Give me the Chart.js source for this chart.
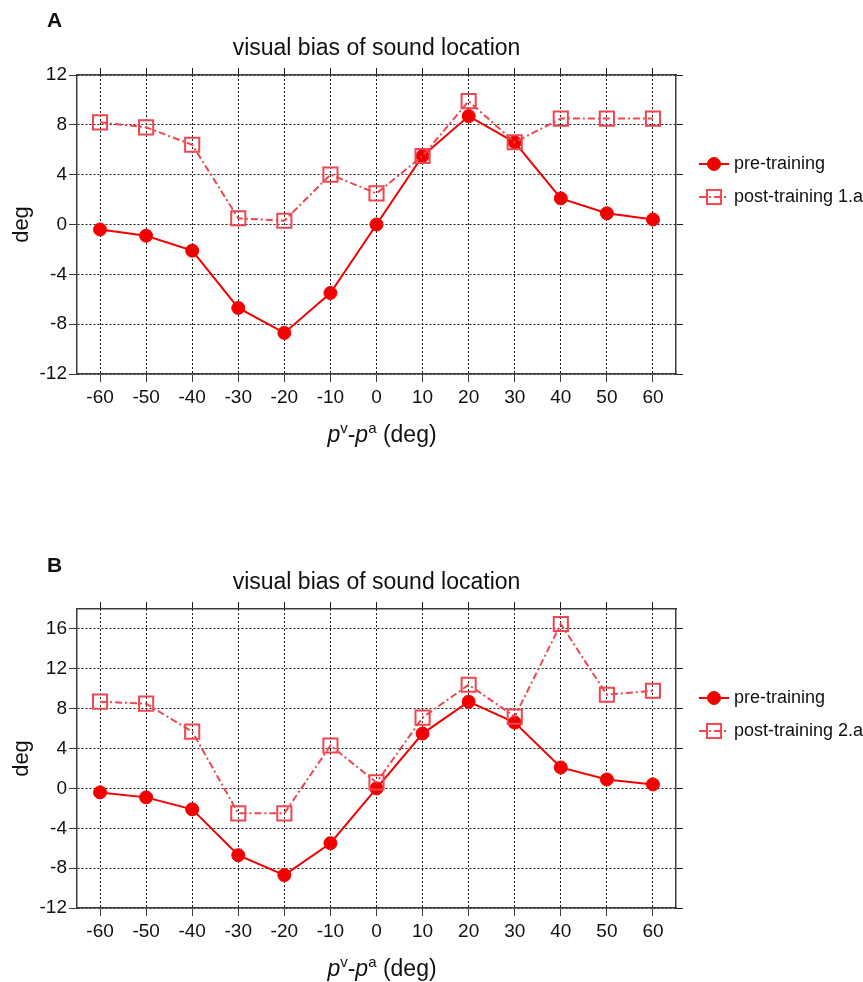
<!DOCTYPE html>
<html><head><meta charset="utf-8">
<script src="https://cdn.jsdelivr.net/npm/chart.js@4/dist/chart.umd.min.js"></script>
<style>
html,body{margin:0;padding:0;background:#fff;}
#wrapA{position:absolute;left:0;top:0;width:863px;height:448px;}
#wrapB{position:absolute;left:0;top:534px;width:863px;height:448px;}
</style></head><body>
<div id="wrapA"><canvas id="chartA"></canvas></div>
<div id="wrapB"><canvas id="chartB"></canvas></div>
<script>
// ---- data ----
const xValues = [-60,-50,-40,-30,-20,-10,0,10,20,30,40,50,60];
const xTicks = [-60,-50,-40,-30,-20,-10,0,10,20,30,40,50,60];
const xRange = [-65, 65];
const preTraining = [-0.4,-0.9,-2.1,-6.7,-8.7,-5.5,0,5.5,8.7,6.6,2.1,0.9,0.4];
const postTraining1a = [8.2,7.8,6.4,0.5,0.3,4.0,2.5,5.5,9.9,6.6,8.5,8.5,8.5];
const postTraining2a = [8.7,8.5,5.7,-2.5,-2.5,4.3,0.6,7.1,10.4,7.2,16.5,9.4,9.8];
const yTicksA = [-12,-8,-4,0,4,8,12];
const yTicksB = [-12,-8,-4,0,4,8,12,16];
const yRangeA = [-12, 12];
const yRangeB = [-12, 18];
const chartTitle = 'visual bias of sound location';
const yTitle = 'deg';
const labelPre = 'pre-training';
const labelPostA = 'post-training 1.a';
const labelPostB = 'post-training 2.a';

const FONT = '"Liberation Sans", Arial, Helvetica, sans-serif';
const PRE_COLOR = '#f20000';
const POST_COLOR = '#ef4650';
const GRID_COLOR = '#1e1e1e';
const AXIS_COLOR = '#3c3c3c';

function pts(xs, ys){ return xs.map((x,i)=>({x:x, y:ys[i]})); }

const decorPlugin = {
  id: 'decor',
  afterDraw(chart, args, o){
    const ctx = chart.ctx;
    const ca = chart.chartArea;
    ctx.save();
    // panel letter
    ctx.fillStyle = '#111';
    ctx.font = 'bold 21px ' + FONT;
    ctx.textBaseline = 'middle';
    ctx.textAlign = 'left';
    ctx.fillText(o.letter, o.letterX, o.letterY);
    // title
    ctx.font = '23px ' + FONT;
    ctx.textAlign = 'center';
    ctx.fillText(o.title, (ca.left + ca.right)/2, o.titleY);
    // x-axis title with superscripts
    const parts = [
      {t:'p', f:'italic 23px ' + FONT, dy:0},
      {t:'v', f:'15px ' + FONT, dy:-9},
      {t:'-', f:'23px ' + FONT, dy:0},
      {t:'p', f:'italic 23px ' + FONT, dy:0},
      {t:'a', f:'15px ' + FONT, dy:-9},
      {t:' (deg)', f:'23px ' + FONT, dy:0}
    ];
    ctx.textAlign = 'left';
    ctx.textBaseline = 'alphabetic';
    let total = 0;
    parts.forEach(p=>{ ctx.font = p.f; p.w = ctx.measureText(p.t).width; total += p.w; });
    let x = o.xTitleX - total/2;
    parts.forEach(p=>{ ctx.font = p.f; ctx.fillText(p.t, x, o.xTitleY + p.dy); x += p.w; });
    // legend
    chart.data.datasets.forEach((ds, i)=>{
      const y = o.legY0 + i*o.legDy;
      ctx.strokeStyle = ds.borderColor;
      ctx.lineWidth = ds.borderWidth;
      ctx.setLineDash(ds.borderDash || []);
      ctx.beginPath(); ctx.moveTo(o.legX0, y); ctx.lineTo(o.legX1, y); ctx.stroke();
      ctx.setLineDash([]);
      const mx = (o.legX0 + o.legX1)/2;
      ctx.lineWidth = ds.pointBorderWidth;
      ctx.strokeStyle = ds.pointBorderColor;
      if (ds.pointStyle === 'rect'){
        const h = ds.pointRadius*Math.SQRT1_2;
        ctx.strokeRect(mx-h, y-h, 2*h, 2*h);
      } else {
        ctx.fillStyle = ds.pointBackgroundColor;
        ctx.beginPath(); ctx.arc(mx, y, ds.pointRadius, 0, Math.PI*2); ctx.fill(); ctx.stroke();
      }
      ctx.fillStyle = '#111';
      ctx.font = '18px ' + FONT;
      ctx.textBaseline = 'middle';
      ctx.fillText(ds.label, o.legTextX, y);
    });
    ctx.restore();
  }
};

function makeChart(id, letter, letterY, postData, postLabel, yRange, yTicks){
  const setX = s => { s.ticks = xTicks.map(v=>({value:v})); };
  const setY = s => { s.ticks = yTicks.map(v=>({value:v})); };
  const gridMain = { color: GRID_COLOR, lineWidth: 1, tickLength: 8, tickColor: AXIS_COLOR, borderDash:[2,2] };
  const borderMain = { display: true, color: AXIS_COLOR, width: 1.5, dash:[2,2] };
  const gridSec = { drawOnChartArea: false, tickLength: 7, color: GRID_COLOR, tickColor: GRID_COLOR };
  return new Chart(document.getElementById(id), {
    type: 'line',
    data: {
      datasets: [
        { label: labelPre, data: pts(xValues, preTraining),
          borderColor: PRE_COLOR, backgroundColor: PRE_COLOR, borderWidth: 2,
          pointStyle: 'circle', pointRadius: 6.5, pointBackgroundColor: PRE_COLOR,
          pointBorderColor: PRE_COLOR, pointBorderWidth: 1, tension: 0, order: 1 },
        { label: postLabel, data: pts(xValues, postData),
          borderColor: POST_COLOR, backgroundColor: 'transparent', borderWidth: 2, borderDash: [7,3,2,3],
          pointStyle: 'rect', pointRadius: 10, pointBackgroundColor: 'transparent',
          pointBorderColor: POST_COLOR, pointBorderWidth: 2, tension: 0, order: 0 }
      ]
    },
    options: {
      responsive: true, maintainAspectRatio: false, animation: false,
      devicePixelRatio: 1,
      layout: { padding: 0 },
      plugins: {
        legend: { display: false }, title: { display: false }, tooltip: { enabled: false },
        decor: { letter: letter, letterX: 47, letterY: letterY, title: chartTitle, titleY: 49,
                 xTitleX: 382, xTitleY: 442,
                 legX0: 699, legX1: 729, legY0: 164, legDy: 33, legTextX: 734 }
      },
      scales: {
        x: { type: 'linear', position: 'bottom', min: xRange[0], max: xRange[1],
             afterBuildTicks: setX, afterFit: s => { s.height = 74; },
             grid: gridMain, border: borderMain,
             ticks: { color: '#111', font: { family: FONT, size: 19 }, padding: 4, maxRotation: 0 } },
        x2: { type: 'linear', position: 'top', min: xRange[0], max: xRange[1],
              afterBuildTicks: setX, afterFit: s => { s.height = 75; },
              grid: gridSec, border: { display: true, color: AXIS_COLOR, width: 1.5 },
              ticks: { display: false } },
        y: { type: 'linear', position: 'left', min: yRange[0], max: yRange[1],
             afterBuildTicks: setY, afterFit: s => { s.width = 77; },
             grid: gridMain, border: borderMain,
             title: { display: true, text: yTitle, color: '#111', font: { family: FONT, size: 22 }, padding: { top: 9, bottom: 0 } },
             ticks: { color: '#111', font: { family: FONT, size: 19 }, padding: 2 } },
        y2: { type: 'linear', position: 'right', min: yRange[0], max: yRange[1],
              afterBuildTicks: setY, afterFit: s => { s.width = 187; },
              grid: gridSec, border: { display: true, color: AXIS_COLOR, width: 1.5 },
              ticks: { display: false } }
      }
    },
    plugins: [decorPlugin]
  });
}

makeChart('chartA', 'A', 21, postTraining1a, labelPostA, yRangeA, yTicksA);
makeChart('chartB', 'B', 32, postTraining2a, labelPostB, yRangeB, yTicksB);
</script>
</body></html>
